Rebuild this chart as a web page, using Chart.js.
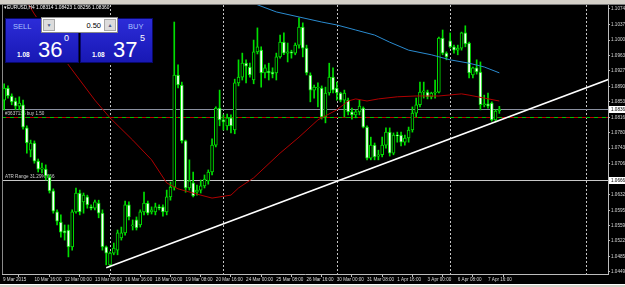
<!DOCTYPE html>
<html>
<head>
<meta charset="utf-8">
<script src="https://cdn.jsdelivr.net/npm/chart.js@4.4.1/dist/chart.umd.min.js"></script>
<style>
  html, body { margin: 0; padding: 0; background: #000; }
  #wrap { position: relative; width: 625px; height: 287px; overflow: hidden; background: #000;
          font-family: 'Liberation Sans', Arial, sans-serif; }
  #chart { position: absolute; left: 0; top: 0; }
  .abs { position: absolute; white-space: nowrap; line-height: 1; }
  .box { box-sizing: border-box; background: linear-gradient(#2c2cd8, #1818b4); border: 1px solid #08086a; }
  .btn { box-sizing: border-box; background: #dcdcdc; border: 1px solid #a8a8a8; color: #4a5a8a;
         font-size: 5px; text-align: center; padding-top: 3px; }
</style>
</head>
<body>
<div id="wrap">
  <canvas id="chart" width="625" height="287"></canvas>

  <div class="abs" style="left:0;top:0;width:625px;height:4px;background:#d4d0c8;border-bottom:1px solid #7a7a7a;"></div>
  <div class="abs" style="left:0;top:284px;width:625px;height:3px;background:#d4d0c8;border-top:1px solid #ffffff;"></div>

  <div class="abs" style="left:4px;top:6px;font-size:4.8px;color:#ffffff;">▾EURUSD,H4  1.08314 1.08423 1.08256 1.08360</div>

  <div class="abs" style="left:4px;top:17px;width:150px;height:47px;background:#000;"></div>
  <div class="abs box" style="left:5px;top:18px;width:74px;height:45px;"></div>
  <div class="abs box" style="left:80px;top:18px;width:73px;height:45px;"></div>
  <div class="abs" style="left:41px;top:17px;width:77px;height:16px;box-sizing:border-box;background:#ffffff;border:1px solid #8a8a8a;"></div>
  <div class="abs btn" style="left:43px;top:19px;width:12px;height:12px;">▼</div>
  <div class="abs btn" style="left:104px;top:19px;width:12px;height:12px;">▲</div>
  <div class="abs" style="left:78px;top:21.5px;width:23px;text-align:right;font-size:7.5px;color:#000;">0.50</div>
  <div class="abs" style="left:13px;top:22.5px;font-size:7.5px;color:#a9c3ff;">SELL</div>
  <div class="abs" style="left:128px;top:22.5px;font-size:7.5px;color:#a9c3ff;">BUY</div>

  <div class="abs" style="left:17px;top:51.5px;font-size:6.5px;font-weight:bold;color:#fff;">1.08</div>
  <div class="abs" style="left:38px;top:38.5px;font-size:22px;color:#fff;">36</div>
  <div class="abs" style="left:64px;top:33.5px;font-size:9px;color:#fff;">0</div>
  <div class="abs" style="left:92px;top:51.5px;font-size:6.5px;font-weight:bold;color:#fff;">1.08</div>
  <div class="abs" style="left:113px;top:38.5px;font-size:22px;color:#fff;">37</div>
  <div class="abs" style="left:140px;top:33.5px;font-size:9px;color:#fff;">5</div>
</div>

<script>
// EURUSD H4, one entry per bar (bar 0 = 9 Mar 00:00)
const opens = [
  1.0867, 1.0862, 1.0857, 1.0886, 1.0867, 1.0855, 1.0843, 1.0846, 1.0791, 1.0738,
  1.0755, 1.0712, 1.0693, 1.0693, 1.0674, 1.0641, 1.0591, 1.0567, 1.0546, 1.0548,
  1.0508, 1.0591, 1.0636, 1.0615, 1.0627, 1.0603, 1.0600, 1.0612, 1.0588, 1.0508,
  1.0465, 1.0493, 1.0500, 1.0529, 1.0541, 1.0608, 1.0558, 1.0572, 1.0560, 1.0591,
  1.0612, 1.0591, 1.0591, 1.0603, 1.0603, 1.0591, 1.0627, 1.0650, 1.0917, 1.0893,
  1.0760, 1.0648, 1.0660, 1.0638, 1.0643, 1.0653, 1.0665, 1.0686, 1.0750, 1.0838,
  1.0810, 1.0796, 1.0815, 1.0786, 1.0898, 1.0912, 1.0945, 1.0936, 1.0905, 1.0972,
  1.0976, 1.0922, 1.0926, 1.0924, 1.0922, 1.0960, 1.0995, 1.0969, 1.0972, 1.0969,
  1.0988, 1.1031, 1.0981, 1.0917, 1.0881, 1.0886, 1.0886, 1.0817, 1.0874, 1.0912,
  1.0886, 1.0874, 1.0857, 1.0857, 1.0829, 1.0822, 1.0829, 1.0838, 1.0793, 1.0719,
  1.0750, 1.0724, 1.0727, 1.0750, 1.0781, 1.0731, 1.0774, 1.0774, 1.0757, 1.0767,
  1.0786, 1.0826, 1.0846, 1.0876, 1.0876, 1.0865, 1.0874, 1.0876, 1.1005, 1.0969,
  1.0998, 1.0984, 1.0976, 1.0981, 1.1017, 1.0993, 1.0917, 1.0934, 1.0924, 1.0846,
  1.0848, 1.0850, 1.0810, 1.08314
];
const highs = [
  1.0876, 1.0881, 1.0896, 1.0891, 1.0872, 1.0862, 1.0865, 1.0857, 1.0796, 1.0762,
  1.0760, 1.0717, 1.0707, 1.0703, 1.0679, 1.0646, 1.0596, 1.0584, 1.0560, 1.0560,
  1.0596, 1.0648, 1.0643, 1.0636, 1.0631, 1.0608, 1.0619, 1.0619, 1.0596, 1.0510,
  1.0496, 1.0517, 1.0548, 1.0555, 1.0617, 1.0615, 1.0572, 1.0579, 1.0596, 1.0638,
  1.0617, 1.0603, 1.0612, 1.0608, 1.0608, 1.0643, 1.0662, 1.1043, 1.0941, 1.0900,
  1.0762, 1.0715, 1.0686, 1.0655, 1.0667, 1.0679, 1.0691, 1.0765, 1.0841, 1.0881,
  1.0822, 1.0824, 1.0822, 1.0907, 1.0953, 1.0969, 1.0953, 1.0945, 1.1000, 1.1029,
  1.0984, 1.0941, 1.0945, 1.0934, 1.0969, 1.1012, 1.1017, 1.0993, 1.0976, 1.0993,
  1.1053, 1.1041, 1.0988, 1.0922, 1.0893, 1.0898, 1.0891, 1.0888, 1.0945, 1.0934,
  1.0900, 1.0876, 1.0881, 1.0862, 1.0838, 1.0834, 1.0857, 1.0841, 1.0796, 1.0769,
  1.0755, 1.0738, 1.0769, 1.0791, 1.0791, 1.0779, 1.0781, 1.0781, 1.0774, 1.0793,
  1.0841, 1.0862, 1.0900, 1.0900, 1.0881, 1.0876, 1.0905, 1.1007, 1.1024, 1.0972,
  1.1017, 1.0988, 1.0988, 1.1019, 1.1034, 1.0995, 1.0936, 1.0953, 1.0948, 1.0869,
  1.0874, 1.0853, 1.0834, 1.08423
];
const lows = [
  1.0853, 1.0855, 1.0834, 1.0862, 1.0846, 1.0834, 1.0834, 1.0788, 1.0731, 1.0722,
  1.0707, 1.0686, 1.0684, 1.0667, 1.0636, 1.0588, 1.0560, 1.0531, 1.0524, 1.0484,
  1.0500, 1.0588, 1.0584, 1.0588, 1.0600, 1.0596, 1.0596, 1.0577, 1.0500, 1.0465,
  1.0460, 1.0489, 1.0489, 1.0524, 1.0536, 1.0572, 1.0548, 1.0548, 1.0555, 1.0584,
  1.0584, 1.0586, 1.0584, 1.0596, 1.0581, 1.0584, 1.0619, 1.0643, 1.0886, 1.0755,
  1.0638, 1.0643, 1.0627, 1.0631, 1.0636, 1.0648, 1.0657, 1.0679, 1.0746, 1.0796,
  1.0786, 1.0786, 1.0779, 1.0777, 1.0891, 1.0905, 1.0898, 1.0912, 1.0896, 1.0967,
  1.0888, 1.0910, 1.0905, 1.0910, 1.0905, 1.0957, 1.0965, 1.0948, 1.0957, 1.0965,
  1.0981, 1.0960, 1.0917, 1.0853, 1.0862, 1.0841, 1.0812, 1.0803, 1.0869, 1.0874,
  1.0857, 1.0853, 1.0817, 1.0822, 1.0812, 1.0815, 1.0822, 1.0791, 1.0715, 1.0715,
  1.0715, 1.0715, 1.0722, 1.0743, 1.0724, 1.0727, 1.0757, 1.0748, 1.0750, 1.0757,
  1.0781, 1.0817, 1.0841, 1.0862, 1.0860, 1.0860, 1.0862, 1.0874, 1.0965, 1.0953,
  1.0981, 1.0969, 1.0965, 1.0976, 1.0984, 1.0910, 1.0910, 1.0919, 1.0834, 1.0841,
  1.0838, 1.0807, 1.0805, 1.08256
];
const closes = [
  1.0862, 1.0867, 1.0886, 1.0867, 1.0853, 1.0843, 1.0850, 1.0793, 1.0755, 1.0755,
  1.0712, 1.0693, 1.0696, 1.0677, 1.0641, 1.0593, 1.0569, 1.0543, 1.0541, 1.0508,
  1.0591, 1.0636, 1.0591, 1.0631, 1.0608, 1.0600, 1.0615, 1.0588, 1.0508, 1.0493,
  1.0493, 1.0505, 1.0541, 1.0541, 1.0608, 1.0579, 1.0560, 1.0553, 1.0591, 1.0612,
  1.0588, 1.0596, 1.0603, 1.0600, 1.0591, 1.0627, 1.0650, 1.0917, 1.0893, 1.0760,
  1.0648, 1.0665, 1.0629, 1.0643, 1.0653, 1.0669, 1.0686, 1.0750, 1.0838, 1.0810,
  1.0805, 1.0815, 1.0796, 1.0898, 1.0912, 1.0945, 1.0938, 1.0917, 1.0972, 1.0984,
  1.0922, 1.0934, 1.0922, 1.0919, 1.0960, 1.0995, 1.0969, 1.0972, 1.0969, 1.0988,
  1.1031, 1.0981, 1.0922, 1.0881, 1.0888, 1.0888, 1.0817, 1.0874, 1.0912, 1.0881,
  1.0874, 1.0857, 1.0874, 1.0829, 1.0822, 1.0829, 1.0843, 1.0793, 1.0719, 1.0750,
  1.0722, 1.0727, 1.0750, 1.0781, 1.0731, 1.0774, 1.0772, 1.0757, 1.0767, 1.0786,
  1.0826, 1.0846, 1.0876, 1.0879, 1.0865, 1.0874, 1.0876, 1.1005, 1.0969, 1.0960,
  1.0984, 1.0976, 1.0981, 1.1017, 1.0991, 1.0922, 1.0934, 1.0924, 1.0846, 1.0848,
  1.0843, 1.0810, 1.0831, 1.08360
];

// moving averages (bar index, price)
const redMaBar = [8, 10, 19, 26, 30, 36, 41, 45, 48, 54, 57, 62, 64, 68, 75, 80, 85, 90, 93, 95, 98, 101, 106, 111, 117, 123, 125, 129, 133];
const redMaVal = [1.1091, 1.1062, 1.0941, 1.0857, 1.0815, 1.0762, 1.0715, 1.0660, 1.0646, 1.0631, 1.0624, 1.0631, 1.0648, 1.0672, 1.0731,
                  1.0769, 1.0810, 1.0834, 1.0855, 1.0860, 1.0855, 1.0860, 1.0865, 1.0867, 1.0867, 1.0872, 1.0869, 1.0862, 1.0855];
const blueMaBar = [64, 69, 74, 80, 86, 90, 95, 100, 104, 109, 115, 120, 125, 129, 133];
const blueMaVal = [1.1100, 1.1084, 1.1067, 1.1055, 1.1043, 1.1036, 1.1024, 1.1012, 1.0995, 1.0976, 1.0965, 1.0953, 1.0945, 1.0936, 1.0922];

// trend line drawn on the chart
const trendBar = [29, 162];
const trendVal = [1.0458, 1.0907];

// horizontal levels
const bidPrice = 1.0836;
const orderPrice = 1.0816;
const atrPrice = 1.0666;
const bidLabel = '1.0836';
const atrLabel = '1.0666';
const orderText = '#3637136 buy 1.50';
const atrText = 'ATR Range 31.29% 666';

// week separators (bar index)
const weekSeparators = [30, 60, 90, 120, 156];

// axis ticks
const xTickBars = [1.7, 10, 18, 26, 34, 42, 50, 58, 66, 74, 82, 90, 98, 106, 114, 122, 130];
const xTickLabels = ['9 Mar 2015', '10 Mar 16:00', '12 Mar 00:00', '13 Mar 08:00', '16 Mar 16:00', '18 Mar 00:00',
  '19 Mar 08:00', '20 Mar 16:00', '24 Mar 00:00', '25 Mar 08:00', '26 Mar 16:00', '30 Mar 00:00',
  '31 Mar 08:00', '1 Apr 16:00', '3 Apr 00:00', '6 Apr 08:00', '7 Apr 16:00'];
const yTickVals = [1.1074, 1.1037, 1.1000, 1.0963, 1.0927, 1.0890, 1.0853, 1.0816, 1.0780, 1.0743,
  1.0706, 1.0632, 1.0595, 1.0559, 1.0522, 1.0485, 1.0449];
const yTickLabels = ['1.1074', '1.1037', '1.1000', '1.0963', '1.0927', '1.0890', '1.0853', '1.0816', '1.0780', '1.0743',
  '1.0706', '1.0632', '1.0595', '1.0559', '1.0522', '1.0485', '1.0449'];

const GREEN = '#00e000';
const FONT = 'Liberation Sans';

const mtOverlay = {
  id: 'mtOverlay',
  beforeDatasetsDraw(chart) {
    const { ctx, chartArea: a, scales: { x, y } } = chart;
    ctx.save();
    ctx.beginPath();
    ctx.rect(a.left, a.top, a.right - a.left, a.bottom - a.top);
    ctx.clip();

    ctx.lineWidth = 1;
    ctx.strokeStyle = '#c4c4c4';
    ctx.setLineDash([2, 2]);
    weekSeparators.forEach(v => {
      const px = Math.round(x.getPixelForValue(v)) + 0.5;
      ctx.beginPath(); ctx.moveTo(px, a.top); ctx.lineTo(px, a.bottom); ctx.stroke();
    });

    const hline = (price, color, dash, offset) => {
      const py = Math.round(y.getPixelForValue(price)) + 0.5;
      ctx.strokeStyle = color;
      ctx.setLineDash(dash);
      ctx.lineDashOffset = offset || 0;
      ctx.beginPath(); ctx.moveTo(a.left, py); ctx.lineTo(a.right, py); ctx.stroke();
    };
    hline(bidPrice, '#8a90a0', []);
    hline(atrPrice, '#c8c8c8', []);
    hline(orderPrice, '#00c000', [4, 4], 0);
    hline(orderPrice, '#c00000', [4, 4], 4);
    ctx.setLineDash([]);

    ctx.fillStyle = '#d0d0d0';
    ctx.font = '4.6px ' + FONT;
    ctx.textBaseline = 'bottom';
    ctx.fillText(orderText, a.left + 3, y.getPixelForValue(orderPrice) - 1);
    ctx.fillText(atrText, a.left + 3, y.getPixelForValue(atrPrice) - 1);
    ctx.restore();

    // left frame line
    ctx.save();
    ctx.strokeStyle = '#8a8a8a';
    ctx.beginPath(); ctx.moveTo(a.left + 0.5, a.top); ctx.lineTo(a.left + 0.5, a.bottom); ctx.stroke();
    ctx.restore();
  },
  afterDraw(chart) {
    const { ctx, chartArea: a, scales: { y } } = chart;
    ctx.save();
    ctx.font = '4.6px ' + FONT;
    ctx.textBaseline = 'middle';
    [[bidPrice, bidLabel], [atrPrice, atrLabel]].forEach(([p, t]) => {
      const py = Math.round(y.getPixelForValue(p));
      ctx.fillStyle = '#ffffff';
      ctx.fillRect(a.right + 1, py - 3, 16, 7);
      ctx.fillStyle = '#000000';
      ctx.fillText(t, a.right + 3, py + 0.5);
    });
    ctx.restore();
  }
};

const bodyData = opens.map((o, i) => ({ x: i, y: [o, closes[i]] }));
const wickData = highs.map((h, i) => ({ x: i, y: [lows[i], h] }));
const bodyFill = opens.map((o, i) => (closes[i] < o ? '#ffffff' : '#000000'));

new Chart(document.getElementById('chart'), {
  type: 'bar',
  data: {
    datasets: [
      {
        type: 'line', data: trendBar.map((b, i) => ({ x: b, y: trendVal[i] })),
        borderColor: '#ffffff', borderWidth: 1.6, pointRadius: 0, order: 0
      },
      {
        type: 'line', data: redMaBar.map((b, i) => ({ x: b, y: redMaVal[i] })),
        borderColor: '#b00000', borderWidth: 1, pointRadius: 0, order: 1
      },
      {
        type: 'line', data: blueMaBar.map((b, i) => ({ x: b, y: blueMaVal[i] })),
        borderColor: '#2a8bd0', borderWidth: 1, pointRadius: 0, order: 1
      },
      {
        data: bodyData, backgroundColor: bodyFill, borderColor: GREEN, borderWidth: 1,
        borderSkipped: false, barThickness: 3, minBarLength: 1, grouped: false, order: 2
      },
      {
        data: wickData, backgroundColor: GREEN, barThickness: 1, grouped: false, order: 3
      }
    ]
  },
  options: {
    responsive: false,
    animation: false,
    events: [],
    layout: { padding: { top: 5, left: 2, right: 0, bottom: 0 } },
    plugins: { legend: { display: false }, tooltip: { enabled: false } },
    scales: {
      x: {
        type: 'linear', min: 1.4286, max: 161.746, offset: false,
        afterFit(s) { s.height = 13; },
        afterBuildTicks(s) { s.ticks = xTickBars.map(v => ({ value: v })); },
        ticks: {
          autoSkip: false, maxRotation: 0, align: 'start', padding: 0, color: '#d8d8d8',
          font: { size: 4.6, family: FONT },
          callback: (v, i) => xTickLabels[i]
        },
        grid: { drawOnChartArea: false, color: '#bcbcbc', tickLength: 3 },
        border: { color: '#bcbcbc' }
      },
      y: {
        position: 'right', min: 1.04433, max: 1.10835, beginAtZero: false,
        afterFit(s) { s.width = 17; },
        afterBuildTicks(s) { s.ticks = yTickVals.map(v => ({ value: v })); },
        ticks: {
          autoSkip: false, padding: 1, color: '#d8d8d8',
          font: { size: 4.6, family: FONT },
          callback: (v, i) => yTickLabels[i]
        },
        grid: { drawOnChartArea: false, color: '#bcbcbc', tickLength: 2 },
        border: { color: '#bcbcbc' }
      }
    }
  },
  plugins: [mtOverlay]
});
</script>
</body>
</html>
